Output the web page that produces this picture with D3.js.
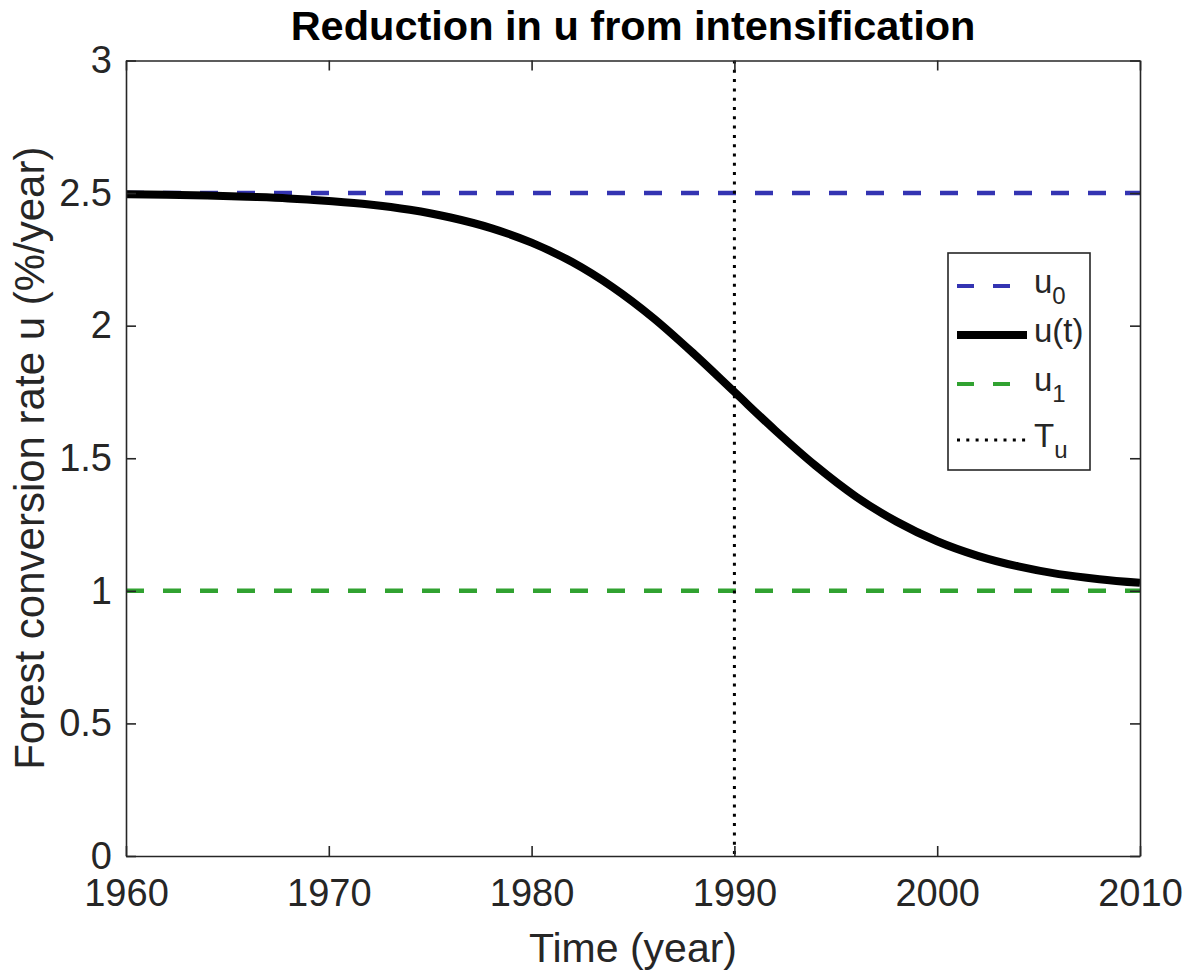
<!DOCTYPE html>
<html>
<head>
<meta charset="utf-8">
<script src="https://cdn.jsdelivr.net/npm/d3@7"></script>
<style>
  html, body { margin: 0; padding: 0; background: #fff; }
  svg { display: block; font-family: "Liberation Sans", Arial, Helvetica, sans-serif; }
</style>
</head>
<body>
<svg id="chart" width="1188" height="973"></svg>
<script>
// Years sampled along the intensification curve
const years = [1960, 1962, 1964, 1966, 1968, 1970, 1972, 1974, 1976, 1978, 1980, 1982, 1984,
               1986, 1988, 1990, 1992, 1994, 1996, 1998, 2000, 2002, 2004, 2006, 2008, 2010];
// Forest conversion rate u(t), %/year
const uValues = [2.496, 2.494, 2.491, 2.486, 2.480, 2.470, 2.457, 2.437, 2.408, 2.368, 2.313, 2.240, 2.145,
                 2.029, 1.894, 1.750, 1.606, 1.472, 1.355, 1.261, 1.187, 1.132, 1.092, 1.063, 1.044, 1.030];
const u0 = 2.5;       // initial rate
const u1 = 1.0;       // rate after intensification
const Tu = 1990;      // midpoint of the transition
const xTicks = [1960, 1970, 1980, 1990, 2000, 2010];
const yTicks = [0, 0.5, 1, 1.5, 2, 2.5, 3];
const yTickLabels = ["0", "0.5", "1", "1.5", "2", "2.5", "3"];

const svg = d3.select("#chart");
const plotLeft = 126, plotRight = 1140, plotTop = 60.5, plotBottom = 856;
const axisColor = "#262626";

const x = d3.scaleLinear().domain([1960, 2010]).range([plotLeft, plotRight]);
const y = d3.scaleLinear().domain([0, 3]).range([plotBottom, plotTop]);

svg.append("defs").append("clipPath").attr("id", "plotClip")
  .append("rect").attr("x", plotLeft).attr("y", plotTop)
  .attr("width", plotRight - plotLeft).attr("height", plotBottom - plotTop);

const plot = svg.append("g").attr("clip-path", "url(#plotClip)");

// u0 reference
plot.append("line")
  .attr("x1", x(1960)).attr("x2", x(2010)).attr("y1", y(u0)).attr("y2", y(u0))
  .attr("stroke", "#3434b2").attr("stroke-width", 4.5).attr("stroke-dasharray", "18,19");

// u(t)
const line = d3.line().x((d, i) => x(years[i])).y(d => y(d)).curve(d3.curveMonotoneX);
plot.append("path").datum(uValues)
  .attr("d", line).attr("fill", "none").attr("stroke", "#000").attr("stroke-width", 8)
  .attr("stroke-linejoin", "round");

// u1 reference
plot.append("line")
  .attr("x1", x(1960)).attr("x2", x(2010)).attr("y1", y(u1)).attr("y2", y(u1))
  .attr("stroke", "#31a231").attr("stroke-width", 4.5).attr("stroke-dasharray", "18,19");

// Tu marker
plot.append("line")
  .attr("x1", x(Tu)).attr("x2", x(Tu)).attr("y1", y(3)).attr("y2", y(0))
  .attr("stroke", "#000").attr("stroke-width", 3).attr("stroke-dasharray", "3,6.3");

// Axes box with inward ticks on all sides
const tickLen = 10;
const axisBottom = d3.axisBottom(x).tickValues(xTicks).tickFormat(d3.format("d"))
  .tickSizeInner(-tickLen).tickSizeOuter(0).tickPadding(23);
const axisTop = d3.axisTop(x).tickValues(xTicks).tickFormat("").tickSizeInner(-tickLen).tickSizeOuter(0);
const axisLeft = d3.axisLeft(y).tickValues(yTicks).tickFormat((d, i) => yTickLabels[i])
  .tickSizeInner(-tickLen).tickSizeOuter(0).tickPadding(14);
const axisRight = d3.axisRight(y).tickValues(yTicks).tickFormat("").tickSizeInner(-tickLen).tickSizeOuter(0);

function styleAxis(g) {
  g.select(".domain").attr("stroke", axisColor).attr("stroke-width", 1.6);
  g.selectAll(".tick line").attr("stroke", axisColor).attr("stroke-width", 1.6);
  g.selectAll(".tick text").attr("fill", axisColor).style("font-size", "38px")
    .style("font-family", "'Liberation Sans', Arial, sans-serif");
}

svg.append("g").attr("transform", `translate(0,${plotBottom})`).call(axisBottom).call(styleAxis)
  .selectAll(".tick text").attr("dy", "0.71em");
svg.append("g").attr("transform", `translate(0,${plotTop})`).call(axisTop).call(styleAxis);
svg.append("g").attr("transform", `translate(${plotLeft},0)`).call(axisLeft).call(styleAxis);
svg.append("g").attr("transform", `translate(${plotRight},0)`).call(axisRight).call(styleAxis);

// Title and axis labels
svg.append("text").attr("x", (plotLeft + plotRight) / 2).attr("y", 40)
  .attr("text-anchor", "middle").attr("font-weight", "bold").attr("font-size", 41.5).attr("fill", "#000")
  .text("Reduction in u from intensification");

svg.append("text").attr("x", (plotLeft + plotRight) / 2).attr("y", 962)
  .attr("text-anchor", "middle").attr("font-size", 41).attr("fill", axisColor)
  .text("Time (year)");

svg.append("text")
  .attr("transform", `translate(44,${(plotTop + plotBottom) / 2}) rotate(-90)`)
  .attr("text-anchor", "middle").attr("font-size", 42).attr("fill", axisColor)
  .text("Forest conversion rate u (%/year)");

// Legend
const legend = svg.append("g");
legend.append("rect").attr("x", 948).attr("y", 253).attr("width", 142).attr("height", 217)
  .attr("fill", "#fff").attr("stroke", axisColor).attr("stroke-width", 1.6);

const entries = [
  { main: "u", sub: "0", color: "#3434b2", width: 4, dash: "17,19" },
  { main: "u(t)", sub: null, color: "#000", width: 8, dash: null },
  { main: "u", sub: "1", color: "#31a231", width: 4, dash: "17,19" },
  { main: "T", sub: "u", color: "#000", width: 3, dash: "3,6.3" }
];
const rowY = [286, 335, 384, 440];
entries.forEach((e, i) => {
  const ly = rowY[i];
  legend.append("line").attr("x1", 957).attr("x2", 1027).attr("y1", ly).attr("y2", ly)
    .attr("stroke", e.color).attr("stroke-width", e.width)
    .attr("stroke-dasharray", e.dash);
  const t = legend.append("text").attr("x", 1034).attr("y", ly + 7)
    .attr("font-size", 33).attr("fill", axisColor);
  t.append("tspan").text(e.main);
  if (e.sub) {
    t.append("tspan").attr("dy", 11).attr("font-size", 24).text(e.sub);
  }
});
</script>
</body>
</html>
